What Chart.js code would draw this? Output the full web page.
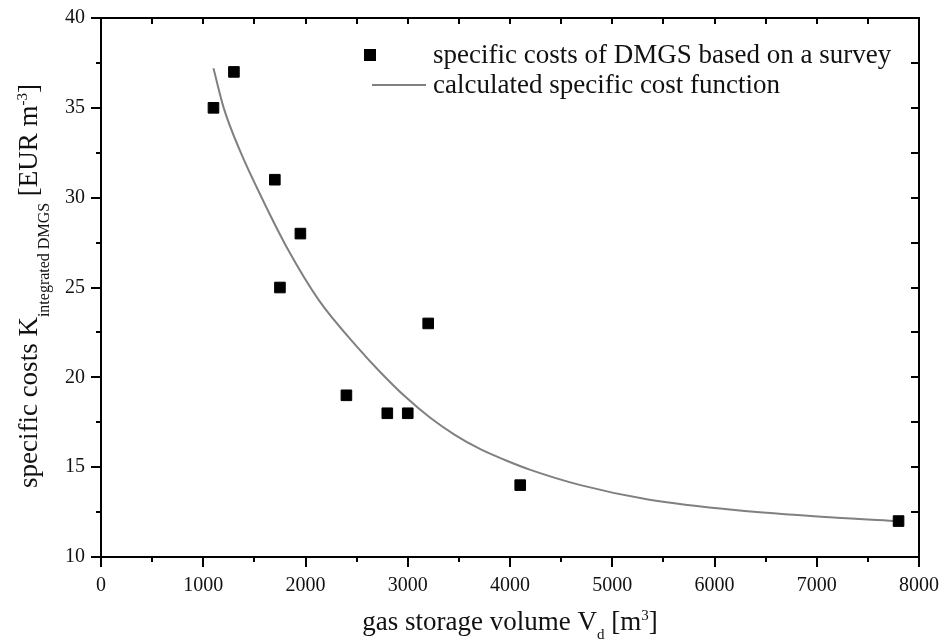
<!DOCTYPE html>
<html>
<head>
<meta charset="utf-8">
<script src="https://cdn.jsdelivr.net/npm/chart.js@4.4.0/dist/chart.umd.min.js"></script>
<style>
html,body{margin:0;padding:0;background:#fff;}
#wrap{width:944px;height:642px;position:relative;}
</style>
</head>
<body>
<div id="wrap"><canvas id="c" width="944" height="642"></canvas></div>
<script>
// survey data points
const surveyVolume = [1100, 1300, 1700, 1750, 1950, 2400, 2800, 3000, 3200, 4100, 7800];
const surveyCost   = [35, 37, 31, 25, 28, 19, 18, 18, 23, 14, 12];
// calculated cost function
const curveVolume = [1100, 1200, 1360, 1580, 1830, 2130, 2520, 2730, 2980, 3220, 3460, 3710, 3950, 4200, 4690, 5350, 6220, 7160, 7800];
const curveCost   = [37.2, 35.0, 32.6, 29.9, 27.1, 24.3, 21.6, 20.3, 18.9, 17.75, 16.8, 16.0, 15.4, 14.85, 14.0, 13.2, 12.6, 12.2, 12.0];
// ticks
const xTicks = [0, 1000, 2000, 3000, 4000, 5000, 6000, 7000, 8000];
const yTicks = [10, 15, 20, 25, 30, 35, 40];
const xMinorStep = 500;
const yMinorStep = 2.5;
// labels
const seriesLabels = ['specific costs of DMGS based on a survey', 'calculated specific cost function'];
const xTitleParts = [['gas storage volume V', 'n'], ['d', 'sub'], [' [m', 'n'], ['3', 'sup'], [']', 'n']];
const yTitleParts = [['specific costs K', 'n'], ['integrated DMGS', 'sub'], [' [EUR m', 'n'], ['-3', 'sup'], [']', 'n']];

const SERIF = '"Liberation Serif", "DejaVu Serif", serif';

function drawParts(ctx, parts, sizes, offsets) {
  let x = 0;
  parts.forEach(([t, kind]) => {
    ctx.font = sizes[kind] + 'px ' + SERIF;
    ctx.fillText(t, x, offsets[kind]);
    x += ctx.measureText(t).width;
  });
  return x;
}
function measureParts(ctx, parts, sizes) {
  let w = 0;
  parts.forEach(([t, kind]) => {
    ctx.font = sizes[kind] + 'px ' + SERIF;
    w += ctx.measureText(t).width;
  });
  return w;
}

const framePlugin = {
  id: 'frame',
  afterDraw(chart) {
    const ctx = chart.ctx;
    const a = chart.chartArea;
    const xs = chart.scales.x, ys = chart.scales.y;
    ctx.save();
    ctx.strokeStyle = '#000';
    ctx.lineWidth = 2;
    ctx.lineCap = 'butt';
    ctx.beginPath();
    ctx.rect(a.left, a.top, a.right - a.left, a.bottom - a.top);
    ctx.stroke();
    ctx.beginPath();
    for (let v = xs.min; v <= xs.max + 1e-9; v += xMinorStep) {
      const px = Math.round(xs.getPixelForValue(v));
      const major = xTicks.includes(v);
      ctx.moveTo(px, a.bottom);
      ctx.lineTo(px, a.bottom + (major ? 10 : 5));
      if (v > xs.min && v < xs.max) {
        ctx.moveTo(px, a.top);
        ctx.lineTo(px, a.top + 6);
      }
    }
    for (let v = ys.min; v <= ys.max + 1e-9; v += yMinorStep) {
      const py = Math.round(ys.getPixelForValue(v));
      const major = yTicks.includes(v);
      ctx.moveTo(a.left, py);
      ctx.lineTo(a.left - (major ? 10 : 5), py);
      if (v > ys.min && v < ys.max) {
        ctx.moveTo(a.right, py);
        ctx.lineTo(a.right - 8, py);
      }
    }
    ctx.stroke();

    // legend
    ctx.fillStyle = '#000';
    ctx.fillRect(364, 49, 12, 12);
    ctx.strokeStyle = '#808080';
    ctx.lineWidth = 2;
    ctx.beginPath();
    ctx.moveTo(372, 85);
    ctx.lineTo(426, 85);
    ctx.stroke();
    ctx.fillStyle = '#111';
    ctx.font = '27px ' + SERIF;
    ctx.textBaseline = 'alphabetic';
    ctx.textAlign = 'left';
    ctx.fillText(seriesLabels[0], 433, 63);
    ctx.fillText(seriesLabels[1], 433, 93);

    // x title
    const xs_sizes = {n: 27, sub: 15, sup: 15};
    const xs_off = {n: 0, sub: 9, sup: -10};
    const wx = measureParts(ctx, xTitleParts, xs_sizes);
    ctx.save();
    ctx.translate(510 - wx / 2, 630);
    drawParts(ctx, xTitleParts, xs_sizes, xs_off);
    ctx.restore();

    // y title
    const ys_sizes = {n: 27, sub: 16, sup: 15};
    const ys_off = {n: 0, sub: 12, sup: -10};
    const wy = measureParts(ctx, yTitleParts, ys_sizes);
    ctx.save();
    ctx.translate(37, 286 + wy / 2);
    ctx.rotate(-Math.PI / 2);
    drawParts(ctx, yTitleParts, ys_sizes, ys_off);
    ctx.restore();
    ctx.restore();
  }
};

new Chart(document.getElementById('c'), {
  type: 'scatter',
  data: {
    datasets: [
      {
        label: seriesLabels[0],
        data: surveyVolume.map((v, i) => ({x: v, y: surveyCost[i]})),
        pointStyle: 'rect',
        pointRadius: 7.5,
        pointBackgroundColor: '#000',
        pointBorderColor: '#000',
        pointBorderWidth: 1,
        showLine: false,
        order: 1
      },
      {
        label: seriesLabels[1],
        data: curveVolume.map((v, i) => ({x: v, y: curveCost[i]})),
        showLine: true,
        borderColor: '#808080',
        borderWidth: 2,
        pointRadius: 0,
        cubicInterpolationMode: 'monotone',
        fill: false,
        order: 2
      }
    ]
  },
  options: {
    responsive: false,
    devicePixelRatio: 1,
    animation: false,
    layout: {padding: {left: 0, right: 25, top: 18, bottom: 0}},
    plugins: {legend: {display: false}, tooltip: {enabled: false}},
    scales: {
      x: {
        type: 'linear', min: 0, max: 8000,
        afterBuildTicks: s => { s.ticks = xTicks.map(v => ({value: v})); },
        ticks: {font: {family: SERIF, size: 20}, color: '#111', padding: 17, maxRotation: 0, autoSkip: false,
                callback: v => String(v)},
        grid: {display: false, drawTicks: false},
        border: {display: false},
        afterFit: s => { s.height = 85; s.paddingLeft = 0; s.paddingRight = 0; }
      },
      y: {
        type: 'linear', min: 10, max: 40,
        afterBuildTicks: s => { s.ticks = yTicks.map(v => ({value: v})); },
        ticks: {font: {family: SERIF, size: 20}, color: '#111', padding: 16, autoSkip: false,
                callback: v => String(v)},
        grid: {display: false, drawTicks: false},
        border: {display: false},
        afterFit: s => { s.width = 101; s.paddingTop = 0; s.paddingBottom = 0; }
      }
    }
  },
  plugins: [framePlugin]
});
</script>
</body>
</html>
